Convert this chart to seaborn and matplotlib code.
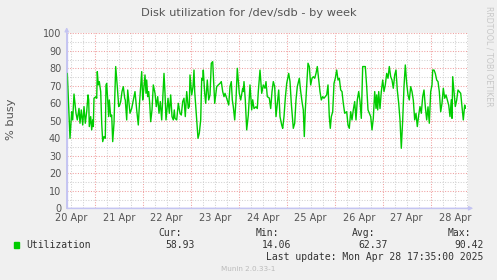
import matplotlib
matplotlib.use("Agg")
import matplotlib.pyplot as plt
from matplotlib.ticker import MultipleLocator, FuncFormatter, NullFormatter
from matplotlib.patches import Rectangle
import seaborn as sns
import pandas as pd

# ---- data (hours since 2025-04-20 00:00, % busy) ----
hours = [
    10.3, 11.65, 12.5, 13.0, 13.65, 14.65, 15.3, 16.15, 16.65, 17.3,
    18.0, 18.65, 19.3, 20.0, 20.65, 21.0, 21.3, 22.0, 22.5, 23.0,
    23.3, 23.65, 24.65, 25.0, 25.3, 25.8, 26.3, 27.0, 27.5, 28.0,
    28.65, 29.3, 29.65, 30.0, 31.0, 31.3, 32.0, 32.5, 33.0, 33.65,
    34.5, 35.3, 36.0, 36.5, 37.0, 37.65, 38.3, 39.0, 39.3, 40.0,
    40.5, 41.0, 41.65, 42.5, 43.3, 44.15, 45.0, 45.8, 46.3, 46.65,
    47.5, 48.0, 48.5, 49.15, 49.65, 50.0, 50.5, 51.0, 51.5, 52.0,
    52.65, 53.3, 54.15, 54.8, 55.5, 56.15, 56.8, 57.5, 58.0, 58.65,
    59.15, 59.65, 60.65, 61.3, 62.0, 62.65, 63.3, 63.8, 64.15, 65.0,
    65.8, 66.65, 67.3, 68.0, 68.65, 69.3, 70.0, 70.8, 71.3, 71.65,
    72.5, 73.15, 73.65, 74.0, 74.3, 75.0, 75.65, 76.3, 77.0, 77.5,
    78.0, 78.3, 79.0, 79.5, 80.3, 81.0, 81.65, 82.3, 83.0, 84.0,
    85.0, 85.8, 86.65, 87.3, 88.0, 88.65, 89.15, 90.0, 91.0, 91.65,
    92.3, 92.8, 93.3, 94.0, 94.65, 95.3, 96.3, 97.0, 98.0, 98.3,
    98.65, 99.3, 100.0, 100.8,
    101.65, 102.5, 103.0, 103.65, 104.65, 105.3, 105.8, 106.65, 107.5, 108.3,
    109.15, 109.65, 110.3, 111.3, 112.0, 112.65, 113.3, 114.0, 114.65, 115.3,
    116.0, 116.65, 117.5, 118.0, 118.65, 119.3, 120.0, 121.0, 121.65, 122.3,
    123.3, 124.0, 124.65, 125.3, 126.3, 127.0, 127.65, 128.3, 128.8, 129.3,
    130.0, 130.65, 131.3, 132.0, 132.65, 133.3, 134.0, 134.65, 135.3, 136.0,
    136.65, 137.3, 138.0, 138.65, 139.3, 140.0, 140.65, 141.3, 141.8, 142.3,
    143.0, 143.65, 144.3, 145.0, 145.65, 146.3, 147.0, 147.65, 148.3, 149.0,
    150.0, 150.65, 151.3, 152.0, 152.65, 153.3, 154.0, 154.65, 155.3, 156.0,
    156.65, 157.3, 158.0, 158.65, 159.3, 160.0, 160.65, 161.3, 162.0, 162.65,
    163.3, 164.0, 164.65, 165.0, 165.5, 166.0, 166.65, 167.3, 168.0, 168.65,
    169.3, 170.0, 170.65, 171.3, 172.0, 172.65, 173.3, 174.0, 174.65, 175.3,
    176.0, 176.65, 177.3, 178.0, 178.65, 179.3, 180.0, 180.65, 181.3, 182.0,
    182.65, 183.3, 184.0, 184.65, 185.3, 186.0, 186.65, 187.3, 188.0, 188.65,
    189.3, 190.0, 190.65, 191.3, 192.0, 192.65, 193.0, 193.65, 194.3, 195.0,
    195.65, 196.3, 197.0, 197.65, 198.3, 199.0, 199.65, 200.3, 201.0, 201.65,
    202.3, 202.65, 203.0, 203.65, 204.3, 205.0, 205.65, 206.3, 207.0, 207.65,
    208.3, 209.0, 209.3,
]
busy = [
    77.1, 40, 55.2, 50.5, 65.3, 54.3, 50.5, 57.1, 48.6, 56.2,
    47.6, 58.1, 48.6, 55.2, 64.8, 61.9, 46.7, 52.4, 44.8, 50.5,
    46.7, 62.9, 63.8, 62.9, 78.1, 70.5, 72.4, 66.7, 48.6, 38.1,
    41.0, 40, 70.5, 71.4, 52.4, 61.9, 52.4, 53.3, 38.1, 48.6,
    81, 69.5, 58.1, 59, 61, 66.7, 69.5, 62.9, 61.9, 50.5,
    67.6, 61.9, 54.3, 57.1, 61.9, 66.7, 56.2, 47.6, 58.1, 63.8,
    78.1, 61.9, 67.6, 76.2, 65.7, 73.3, 63.8, 66.7, 60, 49.5,
    56.2, 70.5, 65.7, 58.1, 63.8, 54.3, 61, 50.5, 61.9, 77.1,
    65.7, 50.5, 62.9, 54.3, 64.8, 52.4, 50.5, 56.2, 51.4, 50.5,
    60, 54.3, 53.3, 61, 62.9, 52.4, 66.7, 57.1, 58.1, 76.2,
    64.8, 69.5, 79, 66.7, 61.9, 50.5, 40, 42.9, 50.5, 74.3,
    73.3, 79, 65.7, 60, 73.3, 61.9, 64.8, 82.9, 83.8, 60,
    69.5, 70.5, 71.4, 72.4, 66.7, 63.8, 65.7, 62.9, 59, 69.5,
    72.4, 61.9, 58.1, 50.5, 61.9, 80, 65.7, 61.9, 68.6, 66.7,
    72.4, 61.9, 44.8, 53.3,
    70.5, 56.2, 62, 57, 58, 57, 66.7, 79, 65.7, 70.5,
    68.6, 72.4, 63.8, 63, 57, 66.7, 72.4, 69.5, 52.4, 60,
    67.6, 52.4, 47.6, 45.7, 52.4, 62.9, 71.4, 77.1, 72.4, 60,
    45.7, 48.6, 61.9, 69.5, 74.3, 66.7, 61, 56.2, 41, 56.2,
    69.5, 82.9, 81, 70.5, 74.3, 75.2, 74.3, 77.1, 81, 73.3,
    66.7, 61.9, 63.8, 62.9, 63.8, 64.8, 70.5, 52.4, 45.7, 52.4,
    55.2, 71.4, 74.3, 79, 73.3, 74.3, 67.6, 66.7, 60, 54.3,
    55.2, 47.6, 45.7, 55.2, 50.5, 56.2, 61, 50.5, 62, 66.7,
    61, 51.4, 81, 81, 81, 69.5, 56.2, 54.3, 52.4, 44.8,
    51.4, 66.7, 57.1, 64.8, 56.2, 66.7, 57, 66.7, 73.3, 66.7,
    70.5, 77.1, 74.3, 81, 75.2, 73.3, 68.6, 76.2, 79, 67.6,
    60, 50.5, 34.3, 50.5, 69.5, 81.9, 71.4, 64.8, 61.9, 69.5,
    66.7, 61.9, 50.5, 54.3, 46.7, 53.3, 58.1, 54.3, 63.8, 67.6,
    58.1, 50.5, 58, 48.6, 66.7, 70.5, 79, 79, 77.1, 73.3,
    72.4, 66.7, 55.2, 60, 68.6, 62.9, 64.8, 61.9, 59, 52.4,
    62, 51.4, 75.2, 66.7, 58.1, 61.9, 67.6, 66.7, 65.7, 58.1,
    50.5, 59, 57.1,
]
day_labels = ["20 Apr", "21 Apr", "22 Apr", "23 Apr", "24 Apr",
              "25 Apr", "26 Apr", "27 Apr", "28 Apr"]
stat_names = ["Cur:", "Min:", "Avg:", "Max:"]
stat_values = ["58.93", "14.06", "62.37", "90.42"]
series_name = "Utilization"
title = "Disk utilization for /dev/sdb - by week"
ylabel = "% busy"
last_update = "Last update: Mon Apr 28 17:35:00 2025"
version = "Munin 2.0.33-1"
watermark = "RRDTOOL / TOBI OETIKER"
x_start, x_end = 10.0, 210.65

# ---- style ----
sns.set_style("white")
plt.rcParams["font.family"] = ["DejaVu Sans"]

W, H = 497, 280
fig = plt.figure(figsize=(W / 100, H / 100), dpi=100)
fig.patch.set_facecolor("#f0f0f0")

def fx(px):
    return px / W

def fy(py):
    return 1 - py / H

ax = fig.add_axes([fx(66.7), 71.7 / H, 401.3 / W, 175.0 / H])
ax.set_facecolor("white")

df = pd.DataFrame({"hours": hours, "busy": busy})

red = "#f0a0a0"
gray = "#d2d2d2"
dot = (0, (1, 1.5))

ax.set_xlim(x_start, x_end)
ax.set_ylim(0, 100)

ax.xaxis.set_major_locator(MultipleLocator(24))
ax.xaxis.set_minor_locator(MultipleLocator(6))
ax.yaxis.set_major_locator(MultipleLocator(10))
ax.yaxis.set_minor_locator(MultipleLocator(5))

ax.grid(which="minor", color=gray, linestyle=dot, linewidth=0.75, zorder=0)
ax.grid(which="major", color=red, linestyle=dot, linewidth=0.75, zorder=0)
ax.set_axisbelow(True)

sns.lineplot(data=df, x="hours", y="busy", color="#00cc00", linewidth=1.0,
             estimator=None, ax=ax, legend=False, zorder=3)
ax.set_xlabel("")
ax.set_ylabel("")

def day_fmt(v, pos):
    h = int(round(v))
    if h % 24 == 12:
        idx = h // 24
        if 0 <= idx < len(day_labels):
            return day_labels[idx]
    return ""

ax.xaxis.set_major_formatter(NullFormatter())
ax.xaxis.set_minor_formatter(FuncFormatter(day_fmt))
ax.tick_params(axis="x", which="both", length=0, pad=3.2, labelsize=7,
               labelcolor="#555555")
ax.tick_params(axis="y", which="both", length=0, pad=4.0, labelsize=7,
               labelcolor="#555555")
ax.yaxis.set_minor_formatter(NullFormatter())

for s in ["top", "right"]:
    ax.spines[s].set_visible(False)
axis_col = "#c4c4f2"
for s in ["left", "bottom"]:
    ax.spines[s].set_color(axis_col)
    ax.spines[s].set_linewidth(0.9)
ax.annotate("", xy=(1.013, 0), xytext=(0, 0), xycoords="axes fraction",
            arrowprops=dict(arrowstyle="-|>", color=axis_col, lw=0.9,
                            mutation_scale=6, shrinkA=0, shrinkB=0),
            annotation_clip=False)
ax.annotate("", xy=(0, 1.035), xytext=(0, 0), xycoords="axes fraction",
            arrowprops=dict(arrowstyle="-|>", color=axis_col, lw=0.9,
                            mutation_scale=6, shrinkA=0, shrinkB=0),
            annotation_clip=False)

# ---- texts ----
fig.text(fx(248.7), fy(13.5), title, ha="center", va="center",
         fontsize=8.2, color="#555555")
fig.text(fx(11), fy(119), ylabel, ha="center", va="center", rotation=90,
         fontsize=8.2, color="#555555")
fig.text(fx(488.5), fy(56.5), watermark, ha="center", va="center",
         rotation=270, fontsize=5.7, color="#c8c8c8")

mono = "DejaVu Sans Mono"
fig.add_artist(Rectangle((fx(14), fy(247.5)), 5.4 / W, 5.4 / H,
                         transform=fig.transFigure, color="#00cc00"))
fig.text(fx(26.7), fy(245.5), series_name, ha="left", va="center",
         family=mono, fontsize=7, color="#333333")
name_x = [158, 255.7, 351.7, 447.7]
val_x = [194.3, 291.7, 387.7, 483.3]
for nm, vl, nx, vx in zip(stat_names, stat_values, name_x, val_x):
    fig.text(fx(nx), fy(233.3), nm, ha="left", va="center",
             family=mono, fontsize=7, color="#333333")
    fig.text(fx(vx), fy(245.5), vl, ha="right", va="center",
             family=mono, fontsize=7, color="#333333")
fig.text(fx(483.3), fy(257.5), last_update, ha="right", va="center",
         family=mono, fontsize=7, color="#333333")
fig.text(fx(248), fy(269.3), version, ha="center", va="center",
         fontsize=5.2, color="#bbbbbb")

fig.savefig("out.png", dpi=100, facecolor=fig.get_facecolor())
